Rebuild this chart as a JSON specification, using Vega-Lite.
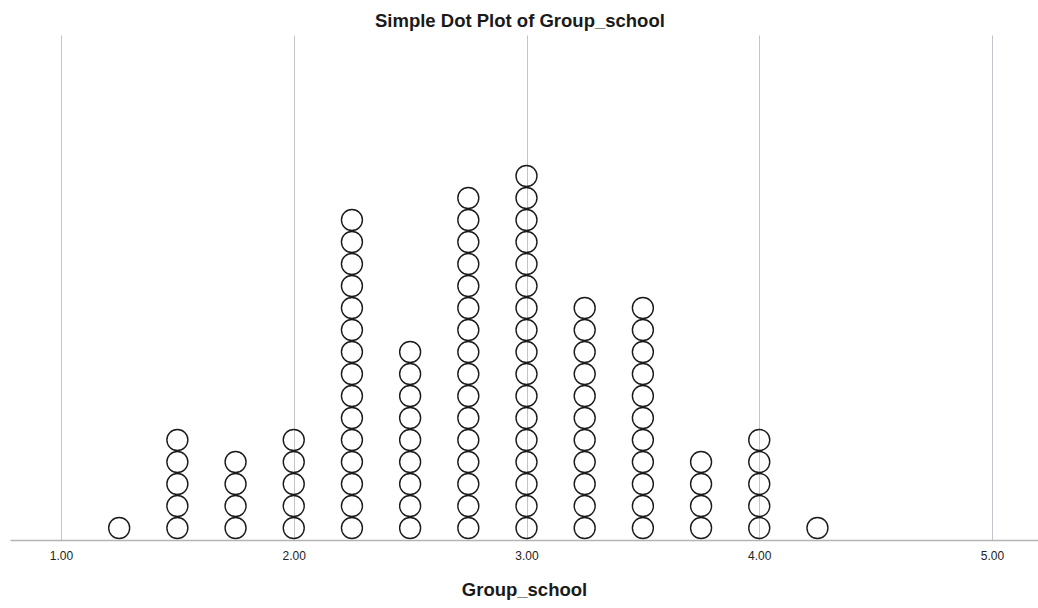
{
  "$schema": "https://vega.github.io/schema/vega-lite/v6.json",
  "autosize": "none",
  "width": 1028,
  "height": 505,
  "padding": {"left": 10, "top": 35, "right": 0, "bottom": 68},
  "background": "white",
  "title": {"text": "Simple Dot Plot of Group_school", "font": "Liberation Sans", "fontSize": 18.5, "fontWeight": "bold", "color": "#1a1a1a", "anchor": "start", "frame": "bounds", "offset": 5, "dx": 365},
  "config": {"view": {"stroke": null}},
  "data": {"values": [
    {"Group_school": 1.25},
    {"Group_school": 1.5},{"Group_school": 1.5},{"Group_school": 1.5},{"Group_school": 1.5},{"Group_school": 1.5},
    {"Group_school": 1.75},{"Group_school": 1.75},{"Group_school": 1.75},{"Group_school": 1.75},
    {"Group_school": 2.0},{"Group_school": 2.0},{"Group_school": 2.0},{"Group_school": 2.0},{"Group_school": 2.0},
    {"Group_school": 2.25},{"Group_school": 2.25},{"Group_school": 2.25},{"Group_school": 2.25},{"Group_school": 2.25},
    {"Group_school": 2.25},{"Group_school": 2.25},{"Group_school": 2.25},{"Group_school": 2.25},{"Group_school": 2.25},
    {"Group_school": 2.25},{"Group_school": 2.25},{"Group_school": 2.25},{"Group_school": 2.25},{"Group_school": 2.25},
    {"Group_school": 2.5},{"Group_school": 2.5},{"Group_school": 2.5},{"Group_school": 2.5},{"Group_school": 2.5},
    {"Group_school": 2.5},{"Group_school": 2.5},{"Group_school": 2.5},{"Group_school": 2.5},
    {"Group_school": 2.75},{"Group_school": 2.75},{"Group_school": 2.75},{"Group_school": 2.75},{"Group_school": 2.75},
    {"Group_school": 2.75},{"Group_school": 2.75},{"Group_school": 2.75},{"Group_school": 2.75},{"Group_school": 2.75},
    {"Group_school": 2.75},{"Group_school": 2.75},{"Group_school": 2.75},{"Group_school": 2.75},{"Group_school": 2.75},
    {"Group_school": 2.75},
    {"Group_school": 3.0},{"Group_school": 3.0},{"Group_school": 3.0},{"Group_school": 3.0},{"Group_school": 3.0},
    {"Group_school": 3.0},{"Group_school": 3.0},{"Group_school": 3.0},{"Group_school": 3.0},{"Group_school": 3.0},
    {"Group_school": 3.0},{"Group_school": 3.0},{"Group_school": 3.0},{"Group_school": 3.0},{"Group_school": 3.0},
    {"Group_school": 3.0},{"Group_school": 3.0},
    {"Group_school": 3.25},{"Group_school": 3.25},{"Group_school": 3.25},{"Group_school": 3.25},{"Group_school": 3.25},
    {"Group_school": 3.25},{"Group_school": 3.25},{"Group_school": 3.25},{"Group_school": 3.25},{"Group_school": 3.25},
    {"Group_school": 3.25},
    {"Group_school": 3.5},{"Group_school": 3.5},{"Group_school": 3.5},{"Group_school": 3.5},{"Group_school": 3.5},
    {"Group_school": 3.5},{"Group_school": 3.5},{"Group_school": 3.5},{"Group_school": 3.5},{"Group_school": 3.5},
    {"Group_school": 3.5},
    {"Group_school": 3.75},{"Group_school": 3.75},{"Group_school": 3.75},{"Group_school": 3.75},
    {"Group_school": 4.0},{"Group_school": 4.0},{"Group_school": 4.0},{"Group_school": 4.0},{"Group_school": 4.0},
    {"Group_school": 4.25}
  ]},
  "transform": [
    {"window": [{"op": "row_number", "as": "stack"}], "groupby": ["Group_school"]}
  ],
  "mark": {"type": "point", "shape": "circle", "filled": false, "stroke": "#1a1a1a", "strokeWidth": 1.4, "size": 440, "opacity": 1},
  "encoding": {
    "x": {
      "field": "Group_school", "type": "quantitative",
      "scale": {"domain": [0.7809, 5.1976], "nice": false, "zero": false},
      "axis": {
        "values": [1, 2, 3, 4, 5], "format": ".2f",
        "title": "Group_school", "titleFont": "Liberation Sans", "titleFontSize": 18.5, "titleFontWeight": "bold", "titleColor": "#1a1a1a", "titlePadding": 19,
        "labelFont": "Liberation Sans", "labelFontSize": 12, "labelColor": "#222222", "labelPadding": 10,
        "grid": true, "gridColor": "#c4c4cc", "gridWidth": 1,
        "domainColor": "#b4b4b4", "domainWidth": 1.5,
        "ticks": false
      }
    },
    "y": {
      "field": "stack", "type": "quantitative",
      "scale": {"domain": [0.455, 23.41], "nice": false, "zero": false},
      "axis": null
    }
  }
}
